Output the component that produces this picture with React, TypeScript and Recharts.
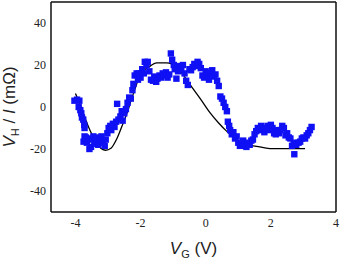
import { ComposedChart, Scatter, Line, XAxis, YAxis } from "recharts";

// measured points (V_G in V, V_H/I in mOhm)
const measX = [
  -4.03, -3.95, -3.88, -3.9, -3.85, -3.82, -3.8, -3.76, -3.73, -3.72, -3.72, -3.75, -3.68, -3.65, -3.6,
  -3.57, -3.52, -3.5, -3.45, -3.42, -3.38, -3.35, -3.3, -3.25, -3.2, -3.15, -3.1, -3.07, -3.02, -2.98,
  -2.93, -2.9, -2.85, -2.8, -2.75, -2.72, -2.68, -2.62, -2.58, -2.55, -2.5, -2.45, -2.4, -2.35, -2.3,
  -2.25, -2.22, -2.18, -2.12, -2.08, -2.05, -2.0, -1.95, -1.9, -1.87, -1.82, -1.78, -1.73, -1.68, -1.62,
  -1.58, -1.52, -1.48, -1.42, -1.37, -1.32, -1.28, -1.22, -1.17, -1.12, -1.07, -1.03, -0.98, -0.95, -0.9,
  -0.85, -0.8, -0.75, -0.7, -0.65, -0.6, -0.55, -0.5, -0.45, -0.4, -0.35, -0.3, -0.25, -0.2, -0.15,
  -0.1, -0.05, 0.0, 0.05, 0.1, 0.15, 0.2, 0.25, 0.3, 0.35, 0.4, 0.45, 0.5, 0.55, 0.6,
  0.65, 0.68, 0.72, 0.75, 0.8, 0.85, 0.9, 0.95, 1.0, 1.05, 1.1, 1.15, 1.2, 1.25, 1.3,
  1.35, 1.4, 1.45, 1.5, 1.55, 1.6, 1.65, 1.7, 1.75, 1.8, 1.85, 1.9, 1.95, 2.0, 2.05,
  2.1, 2.15, 2.2, 2.25, 2.3, 2.35, 2.4, 2.45, 2.5, 2.55, 2.6, 2.65, 2.7, 2.72, 2.78,
  2.85, 2.9, 2.95, 3.0, 3.05, 3.1, 3.15, 3.2, 3.25,
];
const measY = [
  3, 3.5, 3, 0, -1.5, -3, -5, -6, -8.5, -10, -14, -16.5, -14.5, -17, -15.5,
  -20, -19, -15, -14, -17.5, -16, -14.5, -18, -15.5, -14, -17, -18.5, -15.5, -12.5, -10,
  -9, -11, -8, -9.5, -7, 1.5, -6, -4.5, -2, -6.5, -3, -1, 2, 4.5, 4,
  8, 11, 15, 16, 13, 16, 14, 18, 16, 21.5, 20, 21.5, 17, 13, 12.5,
  14.5, 12, 13.5, 15, 14, 16, 15, 16.5, 14, 15.5, 25.5, 22.5, 20, 18, 13.5,
  17, 19.5, 18, 20, 16, 12.5, 10.5, 18, 17.5, 19, 20.5, 19.5, 21.5, 20.5, 18.5,
  15, 14, 17, 15.5, 13, 16, 17.5, 14.5, 15.5, 12.5, 10, 5, 4, 2, 0,
  -2, -7, -9, -11, -13, -12, -15, -14, -17, -18.5, -17.5, -16, -18.5, -19, -17,
  -18, -16, -15.5, -13, -11.5, -10, -11, -9, -10.5, -12, -10, -9, -11, -8.5, -10,
  -12.5, -13, -11, -12.5, -11, -9, -10, -13.5, -12.5, -14.5, -15, -18.5, -17, -22.5, -18,
  -17, -16.5, -15, -14.5, -15, -13.5, -12.5, -11, -9.5,
];

// model curve
const fitX = [-4.0, -3.84, -3.69, -3.54, -3.38, -3.23, -3.08, -2.9, -2.74, -2.59, -2.43, -2.28, -2.12, -2.02, -1.76, -1.5, -1.2, -0.89, -0.63, -0.38, -0.12, 0.13, 0.39, 0.64, 0.95, 1.25, 1.56, 1.97, 2.48, 3.05];
const fitY = [6.4, 0.5, -5.9, -11.5, -16.3, -19.5, -20.6, -19.5, -15.5, -9.9, -3.5, 3.7, 10.9, 15.6, 18.9, 21, 21, 18.9, 14, 8.5, 2.9, -2.7, -7.5, -11.5, -15.5, -17.9, -18.7, -19.8, -19.8, -19.8];

const xMajor = [-4, -2, 0, 2, 4];
const xMinor = [-3, -1, 1, 3];
const yMajor = [-40, -20, 0, 20, 40];
const yMinor = [-50, -30, -10, 10, 30, 50];

const scatterData = measX.map((x, i) => ({ x, y: measY[i] }));
const lineData = fitX.map((x, i) => ({ x, y: fitY[i] }));

const X_DOMAIN: [number, number] = [-4.75, 4];
const Y_DOMAIN: [number, number] = [-50, 50];
const AXIS = "#111";
const serif = "Liberation Serif, DejaVu Serif, serif";
const labelFont = "Liberation Sans, Arial, sans-serif";

const Square = (p: any) => (
  <rect x={p.cx - 3.2} y={p.cy - 3.2} width={6.4} height={6.4} fill="#1010f5" />
);

const XTick = (p: any) => (
  <text x={p.x} y={p.y + 9} textAnchor="middle" style={{ fontFamily: serif, fontSize: 12 }} fill="#222">
    {String(p.payload.value)}
  </text>
);

const YTick = (p: any) => (
  <text x={p.x} y={p.y + 4} textAnchor="end" style={{ fontFamily: serif, fontSize: 12 }} fill="#222">
    {String(p.payload.value)}
  </text>
);

const XLabel = (props: any) => {
  const vb = props.viewBox;
  return (
    <text x={vb.x + vb.width / 2} y={254} textAnchor="middle" style={{ fontFamily: labelFont, fontSize: 17 }} fill="#222">
      <tspan fontStyle="italic">V</tspan>
      <tspan fontSize={11} dy={4}>G</tspan>
      <tspan dy={-4}> (V)</tspan>
    </text>
  );
};

const YLabel = (props: any) => {
  const vb = props.viewBox;
  const cy = vb.y + vb.height / 2;
  return (
    <text x={15} y={cy} transform={`rotate(-90 15 ${cy})`} textAnchor="middle" style={{ fontFamily: labelFont, fontSize: 17 }} fill="#222">
      <tspan fontStyle="italic">V</tspan>
      <tspan fontSize={11} dy={4}>H</tspan>
      <tspan dy={-4}> / </tspan>
      <tspan fontStyle="italic">I</tspan>
      <tspan> (mΩ)</tspan>
    </text>
  );
};

export default function App() {
  return (
    <div style={{ position: "absolute", left: 0, top: 0, background: "#fff" }}>
      <ComposedChart width={340} height={260} margin={{ top: 2, right: 4, bottom: 0, left: 0 }}>
        <XAxis xAxisId="b" type="number" dataKey="x" domain={X_DOMAIN} ticks={xMajor} allowDataOverflow
          height={48} tickLine={false} tickSize={0} tickMargin={6} tick={XTick}
          axisLine={{ stroke: AXIS, strokeWidth: 1.5 }} label={<XLabel />} />
        <XAxis xAxisId="bM" type="number" domain={X_DOMAIN} ticks={xMajor} mirror orientation="bottom" tick={false}
          tickSize={4} axisLine={false} tickLine={{ stroke: AXIS, strokeWidth: 1.2 }} />
        <XAxis xAxisId="bm" type="number" domain={X_DOMAIN} ticks={xMinor} mirror orientation="bottom" tick={false}
          tickSize={2} axisLine={false} tickLine={{ stroke: AXIS, strokeWidth: 1.2 }} />
        <XAxis xAxisId="tM" type="number" domain={X_DOMAIN} ticks={xMajor} mirror orientation="top" tick={false}
          tickSize={4} axisLine={{ stroke: AXIS, strokeWidth: 1.5 }} tickLine={{ stroke: AXIS, strokeWidth: 1.2 }} />
        <XAxis xAxisId="tm" type="number" domain={X_DOMAIN} ticks={xMinor} mirror orientation="top" tick={false}
          tickSize={2} axisLine={false} tickLine={{ stroke: AXIS, strokeWidth: 1.2 }} />

        <YAxis yAxisId="l" type="number" dataKey="y" domain={Y_DOMAIN} ticks={yMajor} allowDataOverflow
          width={51} tickLine={false} tickSize={0} tickMargin={5} tick={YTick}
          axisLine={{ stroke: AXIS, strokeWidth: 1.5 }} label={<YLabel />} />
        <YAxis yAxisId="lM" type="number" domain={Y_DOMAIN} ticks={yMajor} mirror orientation="left" tick={false}
          tickSize={4} axisLine={false} tickLine={{ stroke: AXIS, strokeWidth: 1.2 }} />
        <YAxis yAxisId="lm" type="number" domain={Y_DOMAIN} ticks={yMinor} mirror orientation="left" tick={false}
          tickSize={2} axisLine={false} tickLine={{ stroke: AXIS, strokeWidth: 1.2 }} />
        <YAxis yAxisId="rM" type="number" domain={Y_DOMAIN} ticks={yMajor} mirror orientation="right" tick={false}
          tickSize={4} axisLine={{ stroke: AXIS, strokeWidth: 1.5 }} tickLine={{ stroke: AXIS, strokeWidth: 1.2 }} />
        <YAxis yAxisId="rm" type="number" domain={Y_DOMAIN} ticks={yMinor} mirror orientation="right" tick={false}
          tickSize={2} axisLine={false} tickLine={{ stroke: AXIS, strokeWidth: 1.2 }} />

        <Scatter xAxisId="b" yAxisId="l" data={scatterData} dataKey="y" shape={Square} isAnimationActive={false} />
        <Line xAxisId="b" yAxisId="l" data={lineData} dataKey="y" type="monotone" stroke="#000" strokeWidth={1.3}
          dot={false} activeDot={false} isAnimationActive={false} />
      </ComposedChart>
    </div>
  );
}
